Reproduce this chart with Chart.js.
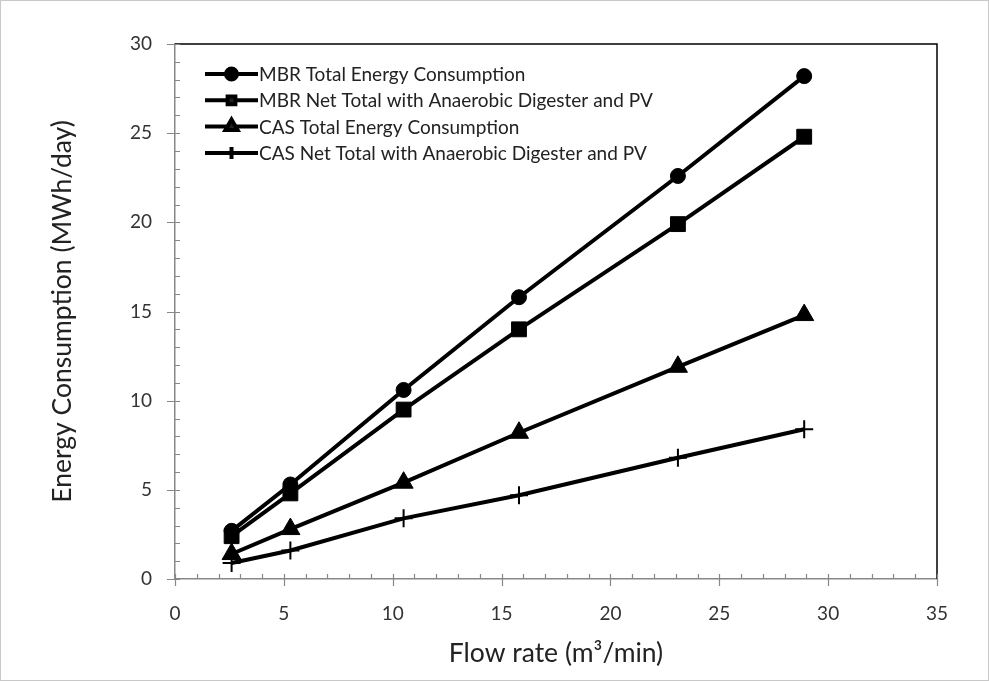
<!DOCTYPE html>
<html>
<head>
<meta charset="utf-8">
<script src="https://cdn.jsdelivr.net/npm/chart.js@4"></script>
<style>
  html, body { margin: 0; padding: 0; background: #fff; }
  #wrap { width: 989px; height: 681px; }
</style>
</head>
<body>
<div id="wrap"><canvas id="energyChart" width="989" height="681"></canvas></div>
<script>
// Flow rate (m3/min)
const flowRate = [2.6, 5.3, 10.5, 15.8, 23.1, 28.9];
// Energy consumption (MWh/day)
const mbrTotal = [2.7, 5.3, 10.6, 15.8, 22.6, 28.2];
const mbrNet = [2.4, 4.8, 9.5, 14.0, 19.9, 24.8];
const casTotal = [1.4, 2.8, 5.4, 8.2, 11.9, 14.8];
const casNet = [0.9, 1.6, 3.4, 4.7, 6.8, 8.4];

const seriesNames = [
    'MBR Total Energy Consumption',
    'MBR Net Total with Anaerobic Digester and PV',
    'CAS Total Energy Consumption',
    'CAS Net Total with Anaerobic Digester and PV'
];
const xTicks = [0, 5, 10, 15, 20, 25, 30, 35];
const yTicks = [0, 5, 10, 15, 20, 25, 30];

const FONT = 'Lato, "Open Sans", sans-serif';

function toPoints(values) {
    return values.map((v, i) => ({ x: flowRate[i], y: v }));
}

function makeSeries(label, values, style, radius, borderWidth) {
    return {
        label: label,
        data: toPoints(values),
        borderColor: '#000',
        backgroundColor: '#000',
        borderWidth: 4,
        pointStyle: style,
        pointRadius: radius,
        pointHoverRadius: radius,
        pointBorderWidth: borderWidth,
        pointBorderColor: '#000',
        pointBackgroundColor: '#000',
        tension: 0
    };
}

// Ticks (minor inward, major crossing), frame and legend
const decorPlugin = {
    id: 'decor',
    afterDraw(chart) {
        const ctx = chart.ctx;
        const area = chart.chartArea;
        const xs = chart.scales.x;
        const ys = chart.scales.y;
        ctx.save();

        // outer light border
        ctx.strokeStyle = '#c8c8c8';
        ctx.lineWidth = 1;
        ctx.strokeRect(0.5, 0.5, chart.width - 1, chart.height - 1);

        // top and right frame
        ctx.strokeStyle = '#000';
        ctx.lineWidth = 1.5;
        ctx.beginPath();
        ctx.moveTo(area.left, area.top);
        ctx.lineTo(area.right, area.top);
        ctx.lineTo(area.right, area.bottom);
        ctx.stroke();

        ctx.strokeStyle = '#888';
        ctx.lineWidth = 1.2;
        ctx.beginPath();
        for (let v = 0; v <= 35; v++) {
            const px = Math.round(xs.getPixelForValue(v)) + 0.5;
            const major = v % 5 === 0;
            ctx.moveTo(px, area.bottom - 5);
            ctx.lineTo(px, area.bottom + (major ? 7 : 0));
        }
        for (let v = 0; v <= 30; v++) {
            const py = Math.round(ys.getPixelForValue(v)) + 0.5;
            const major = v % 5 === 0;
            ctx.moveTo(area.left + 5, py);
            ctx.lineTo(area.left - (major ? 8 : 0), py);
        }
        ctx.stroke();

        // legend
        const lx = area.left + 30;
        const lineLen = 53;
        ctx.font = '19px ' + FONT;
        ctx.textBaseline = 'middle';
        chart.data.datasets.forEach((ds, i) => {
            const y = area.top + 30 + i * 26.3;
            ctx.strokeStyle = '#000';
            ctx.lineWidth = 4;
            ctx.beginPath();
            ctx.moveTo(lx, y);
            ctx.lineTo(lx + lineLen, y);
            ctx.stroke();
            const r = ds.pointStyle === 'cross' ? 6 : (ds.pointStyle === 'triangle' ? 7 : 5.5);
            Chart.helpers.drawPoint(ctx, {
                pointStyle: ds.pointStyle,
                radius: r,
                rotation: 0,
                borderWidth: ds.pointStyle === 'cross' ? 1.5 : 1
            }, lx + lineLen / 2, y);
            ctx.fillStyle = '#222';
            ctx.fillText(ds.label, lx + lineLen + 1, y + 1);
        });
        ctx.restore();
    }
};

new Chart(document.getElementById('energyChart'), {
    type: 'line',
    data: {
        datasets: [
            makeSeries(seriesNames[0], mbrTotal, 'circle', 7.5, 1),
            makeSeries(seriesNames[1], mbrNet, 'rect', 10.5, 1),
            makeSeries(seriesNames[2], casTotal, 'triangle', 11, 1),
            makeSeries(seriesNames[3], casNet, 'cross', 9, 2)
        ]
    },
    options: {
        responsive: false,
        animation: false,
        layout: {
            padding: { left: 43, top: 44, right: 52, bottom: 0 }
        },
        plugins: {
            legend: { display: false },
            tooltip: { enabled: false }
        },
        scales: {
            x: {
                type: 'linear',
                min: 0,
                max: 35,
                afterBuildTicks: (scale) => { scale.ticks = xTicks.map(v => ({ value: v })); },
                afterFit: (scale) => { scale.height = 102; },
                grid: { display: false, drawTicks: false },
                border: { color: '#888', width: 1.5 },
                ticks: {
                    padding: 23,
                    color: '#333',
                    font: { family: FONT, size: 19 }
                },
                title: {
                    display: true,
                    text: 'Flow rate (m³/min)',
                    color: '#222',
                    font: { family: FONT, size: 26.5 },
                    padding: { top: 4, bottom: 12 }
                }
            },
            y: {
                type: 'linear',
                min: 0,
                max: 30,
                afterBuildTicks: (scale) => { scale.ticks = yTicks.map(v => ({ value: v })); },
                afterFit: (scale) => { scale.width = 132; },
                grid: { display: false, drawTicks: false },
                border: { color: '#888', width: 1.5 },
                ticks: {
                    padding: 23,
                    color: '#333',
                    font: { family: FONT, size: 19 }
                },
                title: {
                    display: true,
                    text: 'Energy Consumption (MWh/day)',
                    color: '#222',
                    font: { family: FONT, size: 26.5 },
                    padding: { top: 4, bottom: 4 }
                }
            }
        }
    },
    plugins: [decorPlugin]
});
</script>
</body>
</html>
